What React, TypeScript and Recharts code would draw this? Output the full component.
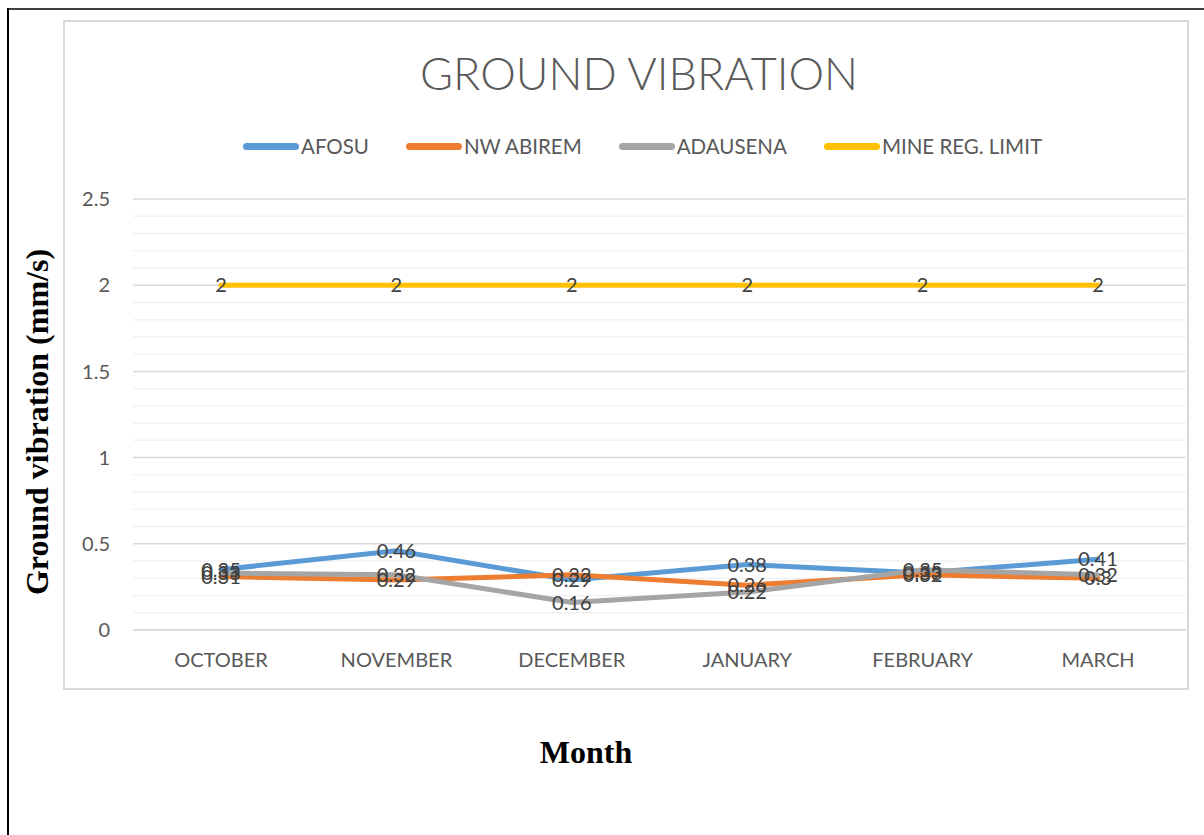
import { CartesianGrid, LabelList, Line, LineChart, ReferenceLine, XAxis, YAxis } from "recharts";

const months = ["OCTOBER", "NOVEMBER", "DECEMBER", "JANUARY", "FEBRUARY", "MARCH"];
const afosu = [0.35, 0.46, 0.29, 0.38, 0.33, 0.41];
const nwAbirem = [0.31, 0.29, 0.32, 0.26, 0.32, 0.3];
const adausena = [0.33, 0.32, 0.16, 0.22, 0.35, 0.32];
const mineLimit = [2, 2, 2, 2, 2, 2];
const yTicks = [0, 0.5, 1, 1.5, 2, 2.5];
const minorTicks = [0.1, 0.2, 0.3, 0.4, 0.6, 0.7, 0.8, 0.9, 1.1, 1.2, 1.3, 1.4, 1.6, 1.7, 1.8, 1.9, 2.1, 2.2, 2.3, 2.4];

const series = [
  { key: "afosu", name: "AFOSU", color: "#5B9BD5" },
  { key: "nwAbirem", name: "NW ABIREM", color: "#ED7D31" },
  { key: "adausena", name: "ADAUSENA", color: "#A5A5A5" },
  { key: "limit", name: "MINE REG. LIMIT", color: "#FFC000" },
];

const data = months.map((m, i) => ({
  month: m,
  afosu: afosu[i],
  nwAbirem: nwAbirem[i],
  adausena: adausena[i],
  limit: mineLimit[i],
}));

const font = "Lato, 'Open Sans', sans-serif";
const serif = "'Liberation Serif', 'Times New Roman', serif";

export default function App() {
  return (
    <div style={{ position: "absolute", left: 0, top: 0, width: 1204, height: 835, background: "#fff", overflow: "hidden" }}>
      {/* page frame */}
      <div style={{ position: "absolute", left: 7, top: 8, width: 1197, height: 2, background: "#404040" }} />
      <div style={{ position: "absolute", left: 7, top: 8, width: 2, height: 827, background: "#000" }} />

      {/* chart box */}
      <div style={{ position: "absolute", left: 63, top: 20, width: 1126, height: 670, border: "2px solid #d9d9d9", boxSizing: "border-box" }} />

      <div style={{ position: "absolute", left: 0, top: 46, width: 1278, textAlign: "center", fontFamily: font, fontWeight: 300, fontSize: 45, color: "#595959" }}>
        GROUND VIBRATION
      </div>

      <div style={{ position: "absolute", left: 243, top: 134, display: "flex", alignItems: "center", fontFamily: font, fontSize: 20.5, color: "#595959" }}>
        {series.map((s) => (
          <div key={s.key} style={{ display: "flex", alignItems: "center", marginRight: 37 }}>
            <div style={{ width: 56, height: 7, borderRadius: 4, background: s.color, marginRight: 2 }} />
            <span>{s.name}</span>
          </div>
        ))}
      </div>

      <div style={{ position: "absolute", left: 63, top: 20 }}>
        <LineChart width={1126} height={670} data={data} margin={{ top: 179, right: 3, bottom: 0, left: 0 }}>
          {minorTicks.map((v) => (
            <ReferenceLine key={v} y={v} stroke="#f2f2f2" strokeWidth={1.5} />
          ))}
          <CartesianGrid vertical={false} stroke="#d9d9d9" strokeWidth={1.5} />
          <XAxis
            dataKey="month"
            height={60}
            padding={{ left: 88, right: 88 }}
            tickLine={false}
            tickSize={0}
            tickMargin={23}
            axisLine={{ stroke: "#d9d9d9", strokeWidth: 1.5 }}
            tick={{ fill: "#595959", fontSize: 20, fontFamily: font }}
          />
          <YAxis
            width={70}
            domain={[0, 2.5]}
            ticks={yTicks}
            axisLine={false}
            tickLine={false}
            tickSize={0}
            tickMargin={23}
            tick={{ fill: "#595959", fontSize: 20, fontFamily: font }}
          />
          {series.map((s) => (
            <Line
              key={s.key}
              dataKey={s.key}
              name={s.name}
              type="linear"
              stroke={s.color}
              strokeWidth={5}
              strokeLinecap="round"
              dot={false}
              isAnimationActive={false}
            >
              <LabelList dataKey={s.key} position="center" fill="#404040" fontSize={20} fontFamily={font} />
            </Line>
          ))}
        </LineChart>
      </div>

      <div
        style={{
          position: "absolute",
          left: 37,
          top: 422,
          transform: "translate(-50%, -50%) rotate(-90deg)",
          whiteSpace: "nowrap",
          fontFamily: serif,
          fontWeight: "bold",
          fontSize: 32,
          color: "#000",
        }}
      >
        Ground vibration (mm/s)
      </div>
      <div
        style={{
          position: "absolute",
          left: 586,
          top: 752,
          transform: "translate(-50%, -50%)",
          fontFamily: serif,
          fontWeight: "bold",
          fontSize: 32,
          color: "#000",
        }}
      >
        Month
      </div>
    </div>
  );
}
